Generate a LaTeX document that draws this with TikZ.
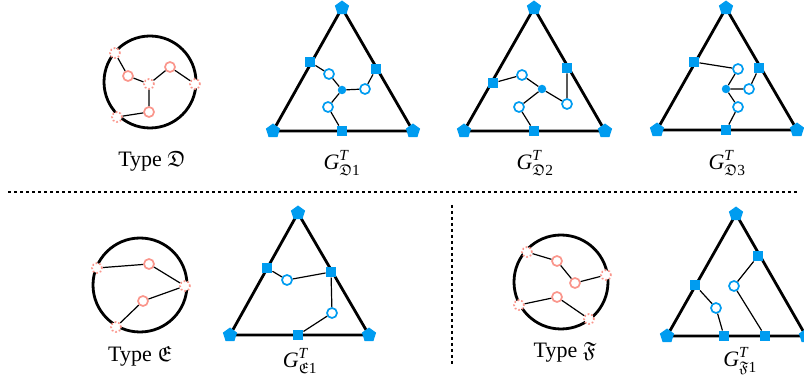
\documentclass[tikz,border=0pt]{standalone}
\usepackage{amsmath}
\usepackage{amssymb}
\usepackage{fontspec}
\setmainfont{Liberation Serif}
\usetikzlibrary{shapes.geometric}

\definecolor{nodeblue}{RGB}{0,156,240}
\definecolor{nodepink}{RGB}{250,150,140}

\tikzset{
  frame/.style={line width=2.8pt, line join=round},
  link/.style={line width=1.2pt},
  corner/.style={regular polygon, regular polygon sides=5, fill=nodeblue, inner sep=0pt, minimum size=15pt},
  port/.style={rectangle, fill=nodeblue, inner sep=0pt, minimum size=10.5pt},
  hollow/.style={circle, draw=nodeblue, fill=white, line width=1.7pt, inner sep=0pt, minimum size=10pt},
  hub/.style={circle, fill=nodeblue, inner sep=0pt, minimum size=8.5pt},
  pinkring/.style={circle, draw=nodepink, fill=white, line width=1.7pt, inner sep=0pt, minimum size=10pt},
  pinkdot/.style={circle, draw=nodepink, fill=white, line width=1.7pt, dotted, inner sep=0pt, minimum size=10pt},
  caption/.style={font=\fontsize{22}{26}\selectfont}
}

\begin{document}
\begin{tikzpicture}[x=1pt, y=-1pt]
\useasboundingbox (0,0) rectangle (804,387);

% separators
\draw[dashed, line width=1.1pt, dash pattern=on 3pt off 3pt] (8,192) -- (797,192);
\draw[dashed, line width=1.1pt, dash pattern=on 3pt off 3pt] (452,205) -- (452,365);

% Type D
\draw[frame] (150,82) circle[radius=46];
\node[pinkdot] (d1) at (115,53) {};
\node[pinkring] (d2) at (128,76) {};
\node[pinkdot] (d3) at (149,84) {};
\node[pinkring] (d4) at (170,67) {};
\node[pinkdot] (d5) at (195,84) {};
\node[pinkring] (d6) at (149,112) {};
\node[pinkdot] (d7) at (117,117) {};
\draw[link] (d1) -- (d2) -- (d3) -- (d4) -- (d5);
\draw[link] (d3) -- (d6) -- (d7);
\node[caption] (typeD) at (152,161) {Type $\mathfrak{D}$};

% G D1
\draw[frame] (342,8) -- (273,131) -- (413,131) -- cycle;
\node[corner] (a1) at (342,8) {};
\node[corner] (a2) at (273,131) {};
\node[corner] (a3) at (413,131) {};
\node[port] (aL) at (310,62) {};
\node[port] (aR) at (376,69) {};
\node[port] (aB) at (342,131) {};
\node[hub] (aH) at (342,90) {};
\node[hollow] (ao1) at (329,74) {};
\node[hollow] (ao2) at (365,89) {};
\node[hollow] (ao3) at (328,107) {};
\draw[link] (aL) -- (ao1) -- (aH) -- (ao2) -- (aR);
\draw[link] (aH) -- (ao3) -- (aB);
\node[caption] (labA) at (342,163) {$\textit{G}^{\textit{T}}_{\mathfrak{D}\text{1}}$};

% G D2
\draw[frame] (534,8) -- (464,131) -- (605,131) -- cycle;
\node[corner] (b1) at (534,8) {};
\node[corner] (b2) at (464,131) {};
\node[corner] (b3) at (605,131) {};
\node[port] (bL) at (493,83) {};
\node[port] (bR) at (567,68) {};
\node[port] (bB) at (534,131) {};
\node[hub] (bH) at (542,89) {};
\node[hollow] (bo1) at (522,75) {};
\node[hollow] (bo2) at (567,104) {};
\node[hollow] (bo3) at (519,107) {};
\draw[link] (bL) -- (bo1) -- (bH) -- (bo2) -- (bR);
\draw[link] (bH) -- (bo3) -- (bB);
\node[caption] (labB) at (535,163) {$\textit{G}^{\textit{T}}_{\mathfrak{D}\text{2}}$};

% G D3
\draw[frame] (726,8) -- (657,130) -- (797,130) -- cycle;
\node[corner] (c1) at (726,8) {};
\node[corner] (c2) at (657,130) {};
\node[corner] (c3) at (797,130) {};
\node[port] (cL) at (694,62) {};
\node[port] (cR) at (759,68) {};
\node[port] (cB) at (726,130) {};
\node[hub] (cH) at (726,89) {};
\node[hollow] (co1) at (738,69) {};
\node[hollow] (co2) at (749,89) {};
\node[hollow] (co3) at (738,107) {};
\draw[link] (cL) -- (co1) -- (cH) -- (co2) -- (cR);
\draw[link] (cH) -- (co3) -- (cB);
\node[caption] (labC) at (727,163) {$\textit{G}^{\textit{T}}_{\mathfrak{D}\text{3}}$};

% Type E
\draw[frame] (140,285) circle[radius=47];
\node[pinkdot] (e1) at (97,268) {};
\node[pinkring] (e2) at (149,264) {};
\node[pinkdot] (e3) at (185,286) {};
\node[pinkring] (e4) at (143,301) {};
\node[pinkdot] (e5) at (116,327) {};
\draw[link] (e1) -- (e2) -- (e3) -- (e4) -- (e5);
\node[caption] (typeE) at (140,356) {Type $\mathfrak{E}$};

% G E1
\draw[frame] (298,213) -- (230,335) -- (369,335) -- cycle;
\node[corner] (g1) at (298,213) {};
\node[corner] (g2) at (230,335) {};
\node[corner] (g3) at (369,335) {};
\node[port] (gL) at (267,268) {};
\node[port] (gR) at (331,272) {};
\node[port] (gB) at (298,335) {};
\node[hollow] (go1) at (287,280) {};
\node[hollow] (go2) at (332,313) {};
\draw[link] (gL) -- (go1) -- (gR) -- (go2) -- (gB);
\node[caption] (labG) at (300,361) {$\textit{G}^{\textit{T}}_{\mathfrak{E}\text{1}}$};

% Type F
\draw[frame] (561,282) circle[radius=47];
\node[pinkdot] (f1) at (527,252) {};
\node[pinkring] (f2) at (557,261) {};
\node[pinkring] (f3) at (575,283) {};
\node[pinkdot] (f4) at (606,275) {};
\node[pinkring] (f5) at (557,297) {};
\node[pinkdot] (f6) at (519,305) {};
\node[pinkdot] (f7) at (589,319) {};
\draw[link] (f1) -- (f2) -- (f3) -- (f4);
\draw[link] (f6) -- (f5) -- (f7);
\node[caption] (typeF) at (565,352) {Type $\mathfrak{F}$};

% G F1
\draw[frame] (736,214) -- (667,336) -- (806,336) -- cycle;
\node[corner] (h1) at (736,214) {};
\node[corner] (h2) at (667,336) {};
\node[corner] (h3) at (806,336) {};
\node[port] (hL) at (695,285) {};
\node[port] (hR) at (758,256) {};
\node[port] (hB1) at (724,336) {};
\node[port] (hB2) at (765,336) {};
\node[hollow] (ho1) at (716,308) {};
\node[hollow] (ho2) at (734,286) {};
\draw[link] (hL) -- (ho1) -- (hB1);
\draw[link] (hR) -- (ho2) -- (hB2);
\node[caption] (labH) at (740,361) {$\textit{G}^{\textit{T}}_{\mathfrak{F}\text{1}}$};
\end{tikzpicture}
\end{document}
